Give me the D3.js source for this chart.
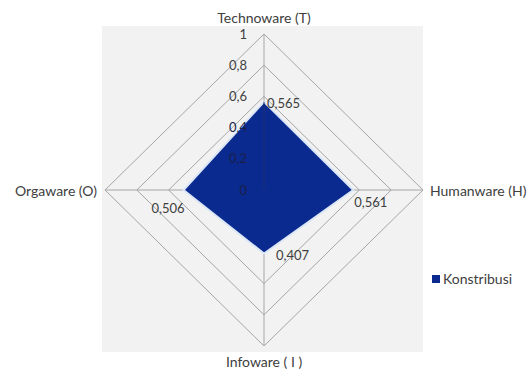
<!DOCTYPE html>
<html>
<head>
<meta charset="utf-8">
<script src="https://cdn.jsdelivr.net/npm/d3@7/dist/d3.min.js"></script>
<style>
  html, body { margin: 0; padding: 0; background: #ffffff; }
  svg { display: block; font-family: Lato, "Open Sans", sans-serif; }
</style>
</head>
<body>
<svg id="chart" width="531" height="372"></svg>
<script>
// Radar axes (clockwise from top) and the contribution of each component
const axes = ["Technoware (T)", "Humanware (H)", "Infoware ( I )", "Orgaware (O)"];
const values = [0.565, 0.561, 0.407, 0.506];
const valueLabels = ["0,565", "0,561", "0,407", "0,506"];
const ticks = [0, 0.2, 0.4, 0.6, 0.8, 1];
const tickLabels = ["0", "0,2", "0,4", "0,6", "0,8", "1"];
const seriesName = "Konstribusi";

const svg = d3.select("#chart");
const cx = 264, cy = 190;
const textColor = "#404040";
const fillColor = "#0b2a8f";

// Plot area background
svg.append("rect")
  .attr("x", 102).attr("y", 26).attr("width", 321).attr("height", 326)
  .attr("fill", "#f2f2f2");

const rx = d3.scaleLinear().domain([0, 1]).range([0, 159]);
const ry = d3.scaleLinear().domain([0, 1]).range([0, 156]);
const angle = d3.scalePoint().domain(axes).range([0, 2 * Math.PI * 3 / 4]);

function pt(axis, v) {
  const a = angle(axis);
  return [cx + Math.sin(a) * rx(v), cy - Math.cos(a) * ry(v)];
}

// Grid rings (diamonds)
const ring = d3.line().curve(d3.curveLinearClosed);
svg.append("g").selectAll("path")
  .data(ticks.filter(t => t > 0))
  .join("path")
  .attr("d", t => ring(axes.map(a => pt(a, t))))
  .attr("fill", "none")
  .attr("stroke", "#a6a6a6")
  .attr("stroke-width", 1);

// Spokes
svg.append("g").selectAll("line")
  .data(axes)
  .join("line")
  .attr("x1", cx).attr("y1", cy)
  .attr("x2", a => pt(a, 1)[0]).attr("y2", a => pt(a, 1)[1])
  .attr("stroke", "#a6a6a6")
  .attr("stroke-width", 1);

// Series polygon
svg.append("path")
  .attr("d", ring(axes.map((a, i) => pt(a, values[i]))))
  .attr("fill", fillColor)
  .attr("stroke", "#dbe6f7")
  .attr("stroke-width", 2)
  .attr("stroke-linejoin", "miter");

// Value axis line drawn over the series
svg.append("line")
  .attr("x1", cx).attr("y1", cy)
  .attr("x2", cx).attr("y2", pt(axes[0], values[0])[1])
  .attr("stroke", "#1a2f70")
  .attr("stroke-width", 1);

// Tick labels along the top spoke
svg.append("g").selectAll("text")
  .data(ticks)
  .join("text")
  .attr("x", cx - 17)
  .attr("y", t => pt(axes[0], t)[1] + 4.5)
  .attr("text-anchor", "end")
  .attr("font-size", 13)
  .attr("fill", (t, i) => t <= values[0] - 0.1 ? "#1a1f4a" : textColor)
  .text((t, i) => tickLabels[i]);

// Data labels
const labelOffsets = [[3, 6, "start"], [1, 17, "start"], [12, 7, "start"], [1, 23, "end"]];
svg.append("g").selectAll("text")
  .data(axes)
  .join("text")
  .attr("x", (a, i) => pt(a, values[i])[0] + labelOffsets[i][0])
  .attr("y", (a, i) => pt(a, values[i])[1] + labelOffsets[i][1])
  .attr("text-anchor", (a, i) => labelOffsets[i][2])
  .attr("font-size", 13)
  .attr("fill", textColor)
  .text((a, i) => valueLabels[i]);

// Axis category labels
const catPos = [
  { x: cx, y: 23, anchor: "middle" },
  { x: 430, y: 196, anchor: "start" },
  { x: cx, y: 367, anchor: "middle" },
  { x: 97, y: 196, anchor: "end" }
];
svg.append("g").selectAll("text")
  .data(axes)
  .join("text")
  .attr("x", (a, i) => catPos[i].x)
  .attr("y", (a, i) => catPos[i].y)
  .attr("text-anchor", (a, i) => catPos[i].anchor)
  .attr("font-size", 14)
  .attr("fill", textColor)
  .text(a => a);

// Legend
const legend = svg.append("g").attr("transform", "translate(432,275)");
legend.append("rect").attr("width", 8).attr("height", 8).attr("fill", fillColor);
legend.append("text")
  .attr("x", 11).attr("y", 8.5)
  .attr("font-size", 14)
  .attr("fill", textColor)
  .text(seriesName);
</script>
</body>
</html>
